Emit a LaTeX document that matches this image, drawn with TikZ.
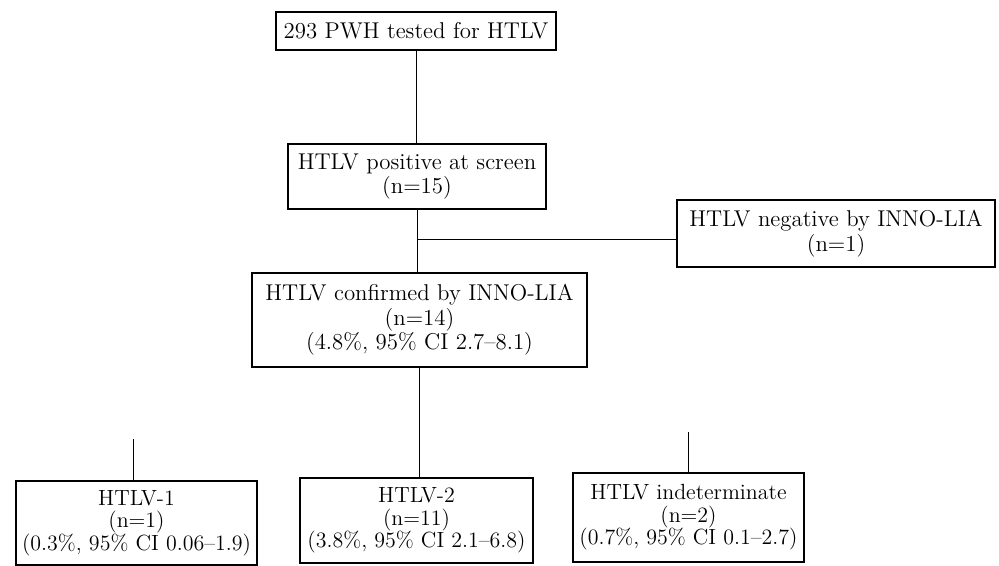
\documentclass[tikz,border=0pt]{standalone}
\usetikzlibrary{positioning}
\begin{document}
\begin{tikzpicture}
  [
    x=0.02cm, y=-0.02cm,
    box/.style={draw, rectangle, align=center, inner sep=1pt, line width=0.7pt, font=\fontsize{13}{14}\selectfont},
    result/.style={box, font=\fontsize{12.5}{12.8}\selectfont},
    link/.style={line width=0.5pt}
  ]
  \useasboundingbox (0,0) rectangle (999,565);
  \node (tested) [box, minimum width=5.6cm, minimum height=0.76cm] at (416,31) {293 PWH tested for HTLV};
  \node (screen) [box, minimum width=5.16cm, minimum height=1.3cm] at (417,176.5) {HTLV positive at screen\\(n=15)};
  \node (conf) [box, minimum width=6.7cm, minimum height=1.88cm] at (419.5,320) {HTLV confirmed by INNO-LIA\\(n=14)\\(4.8\%, 95\% CI 2.7--8.1)};
  \node (neg) [box, minimum width=6.36cm, minimum height=1.34cm] at (836,233.5) {HTLV negative by INNO-LIA\\(n=1)};
  \node (one) [result, minimum width=4.82cm, minimum height=1.68cm] at (136.5,523) {HTLV-1\\(n=1)\\(0.3\%, 95\% CI 0.06--1.9)};
  \node (two) [result, minimum width=4.66cm, minimum height=1.7cm] at (416.5,520.5) {HTLV-2\\(n=11)\\(3.8\%, 95\% CI 2.1--6.8)};
  \node (indet) [result, minimum width=4.62cm, minimum height=1.78cm] at (688.5,517.5) {HTLV indeterminate\\(n=2)\\(0.7\%, 95\% CI 0.1--2.7)};
  \coordinate (split) at (417,239);
  \coordinate (onetop) at (133,439);
  \coordinate (indettop) at (688,432);

  \draw [link] (tested.south) -- (tested.south |- screen.north);
  \draw [link] (screen.south) -- (screen.south |- conf.north);
  \draw [link] (split) -- (split -| neg.west);
  \draw [link] (conf.south) -- (conf.south |- two.north);
  \draw [link] (onetop) -- (onetop |- one.north);
  \draw [link] (indettop) -- (indettop |- indet.north);
\end{tikzpicture}
\end{document}
